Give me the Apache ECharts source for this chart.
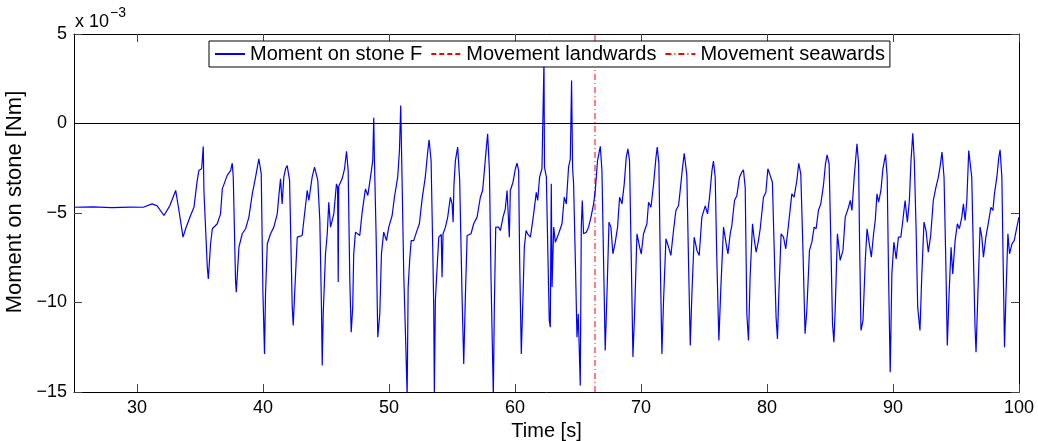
<!DOCTYPE html>
<html><head><meta charset="utf-8">
<script src="https://cdn.jsdelivr.net/npm/echarts@6/dist/echarts.min.js"></script>
<style>html,body{margin:0;padding:0;background:#fff}#c{width:1038px;height:441px}</style>
</head><body><div id="c"></div>
<script>
// Time [s]
const timeS = [25.0,26.5,28.0,29.5,30.5,31.2,31.6,32.14,32.6,33.07,33.33,33.65,33.86,34.25,34.52,34.78,34.91,35.13,35.26,35.31,35.58,35.66,35.84,35.98,36.37,36.63,36.77,37.16,37.43,37.56,37.64,37.82,37.88,38.09,38.35,38.62,38.88,39.15,39.41,39.67,39.86,39.99,40.12,40.2,40.34,40.6,40.86,41.13,41.26,41.39,41.52,41.65,41.79,41.92,42.11,42.32,42.4,42.5,42.72,43.11,43.24,43.51,43.64,43.9,44.09,44.35,44.51,44.64,44.7,44.78,44.96,45.1,45.22,45.36,45.62,45.83,45.92,45.97,46.01,46.28,46.47,46.63,46.76,46.89,47.0,47.12,47.2,47.34,47.68,47.87,48.13,48.32,48.53,48.71,48.79,48.84,48.98,49.11,49.27,49.4,49.58,49.8,49.98,50.25,50.43,50.69,50.83,50.93,51.01,51.17,51.3,51.44,51.52,51.64,51.76,51.96,52.18,52.41,52.63,52.88,53.07,53.18,53.34,53.47,53.55,53.6,53.68,53.82,53.95,54.15,54.21,54.29,54.48,54.66,54.87,55.01,55.09,55.15,55.27,55.45,55.61,55.8,55.93,56.06,56.2,56.51,56.72,56.99,57.25,57.43,57.57,57.73,57.83,57.97,58.1,58.2,58.28,58.36,58.47,58.7,58.84,59.05,59.23,59.37,59.5,59.55,59.63,59.84,60.03,60.16,60.29,60.37,60.5,60.64,60.74,60.88,61.0,61.22,61.43,61.69,61.8,61.95,62.14,62.27,62.3,62.34,62.49,62.62,62.72,62.8,62.88,62.94,63.07,63.2,63.46,63.73,63.91,64.07,64.25,64.39,64.49,64.57,64.65,64.79,64.92,65.02,65.18,65.26,65.34,65.44,65.66,65.84,66.03,66.24,66.37,66.55,66.77,66.9,67.03,67.16,67.3,67.46,67.61,67.77,67.96,68.14,68.3,68.49,68.67,68.83,68.96,69.09,69.23,69.36,69.49,69.68,69.89,70.02,70.2,70.47,70.6,70.79,71.0,71.19,71.29,71.42,71.53,71.66,71.79,71.98,72.19,72.37,72.58,72.77,72.98,73.11,73.3,73.43,73.64,73.77,73.91,74.04,74.22,74.44,74.62,74.83,75.1,75.28,75.44,75.63,75.75,75.89,76.02,76.18,76.34,76.55,76.76,76.9,77.08,77.21,77.42,77.61,77.82,78.0,78.13,78.27,78.4,78.53,78.66,78.85,78.98,79.14,79.32,79.46,79.72,79.91,80.07,80.25,80.43,80.56,80.72,80.83,80.94,81.12,81.31,81.49,81.7,81.97,82.15,82.37,82.52,82.68,82.84,83.02,83.16,83.37,83.56,83.74,83.9,84.08,84.27,84.48,84.64,84.77,84.93,85.07,85.2,85.31,85.41,85.59,85.81,86.03,86.21,86.47,86.61,86.74,86.92,87.14,87.27,87.35,87.46,87.62,87.8,87.94,88.12,88.28,88.46,88.59,88.73,88.86,89.04,89.2,89.41,89.54,89.65,89.78,89.91,90.07,90.25,90.43,90.62,90.78,90.96,91.14,91.3,91.43,91.57,91.69,91.83,91.96,92.14,92.28,92.46,92.62,92.8,92.99,93.2,93.41,93.6,93.73,93.89,94.05,94.19,94.31,94.45,94.61,94.74,94.93,95.11,95.27,95.46,95.59,95.72,95.86,96.01,96.12,96.25,96.38,96.51,96.59,96.73,96.91,97.05,97.18,97.37,97.58,97.77,97.93,98.05,98.24,98.4,98.5,98.64,98.74,98.85,98.96,99.12,99.25,99.44,99.62,99.83,100.0];
// Moment on stone F [x 10^-3 Nm]
const momentE3 = [-4.68,-4.66,-4.7,-4.67,-4.68,-4.49,-4.6,-5.14,-4.6,-3.74,-4.86,-6.35,-5.88,-5.14,-4.68,-3.18,-2.63,-2.53,-1.28,-3.74,-8.03,-8.68,-6.72,-5.88,-5.6,-5.05,-3.65,-2.9,-2.63,-2.22,-3.0,-8.77,-9.42,-6.91,-6.16,-5.88,-5.23,-3.93,-3.0,-1.97,-2.81,-9.33,-12.87,-9.51,-6.72,-6.16,-5.79,-5.05,-4.02,-3.09,-4.49,-3.0,-2.53,-2.35,-3.18,-10.26,-11.28,-9.7,-6.35,-6.26,-5.42,-3.74,-4.3,-3.0,-2.44,-3.18,-5.42,-10.26,-13.52,-10.63,-7.28,-6.16,-4.4,-5.79,-5.05,-3.37,-3.6,-8.86,-3.5,-3.09,-2.53,-1.55,-2.63,-8.77,-11.66,-10.26,-7.28,-6.07,-6.26,-4.95,-3.65,-4.02,-3.0,-2.07,0.32,-1.88,-6.35,-11.94,-10.63,-7.28,-6.07,-6.54,-5.79,-5.14,-4.12,-3.0,-1.51,1.0,-2.07,-8.4,-11.56,-15.2,-9.14,-7.65,-6.54,-6.54,-6.07,-5.6,-4.21,-3.0,-1.6,-0.91,-2.07,-6.91,-10.26,-15.2,-9.89,-8.03,-6.35,-6.2,-8.59,-6.16,-5.79,-5.23,-4.12,-4.49,-5.51,-3.5,-2.07,-1.32,-3.18,-9.7,-13.43,-9.7,-6.26,-6.16,-5.6,-5.23,-4.12,-3.74,-2.63,-1.32,-0.58,-2.63,-8.77,-12.31,-15.2,-10.26,-5.79,-5.79,-5.98,-5.23,-4.77,-3.74,-3.8,-6.35,-3.74,-3.28,-2.53,-2.22,-2.63,-7.65,-12.87,-9.51,-6.91,-5.98,-6.16,-6.35,-5.33,-3.84,-4.3,-3.0,-2.53,-2.44,3.5,-2.44,-3.0,-7.65,-11.0,-11.38,-3.37,-9.14,-5.79,-6.63,-6.16,-5.6,-4.12,-4.49,-2.44,-1.97,2.4,-2.44,-3.37,-7.65,-11.94,-10.63,-14.64,-5.79,-4.3,-6.16,-6.07,-5.79,-5.23,-4.49,-3.74,-2.07,-1.28,-2.63,-7.65,-12.68,-9.51,-5.51,-5.79,-7.28,-6.63,-5.79,-4.12,-4.49,-3.37,-1.88,-1.42,-2.07,-7.65,-13.05,-10.63,-6.16,-6.91,-7.28,-6.16,-5.6,-4.4,-4.68,-3.37,-1.88,-1.32,-2.25,-7.65,-12.87,-9.89,-6.44,-6.91,-7.37,-5.98,-4.86,-4.58,-3.74,-2.44,-1.66,-2.9,-7.65,-12.4,-9.51,-6.35,-7.09,-7.37,-5.23,-4.6,-5.05,-4.12,-2.63,-2.1,-3.0,-7.65,-12.12,-9.14,-5.79,-6.72,-7.28,-6.16,-5.7,-4.3,-4.02,-3.0,-2.72,-2.59,-3.56,-10.63,-12.12,-8.59,-5.6,-6.44,-7.19,-6.54,-5.88,-4.12,-3.84,-2.53,-2.9,-3.28,-6.72,-10.82,-12.03,-9.51,-6.16,-6.35,-7.0,-5.7,-3.93,-4.12,-3.18,-2.22,-2.81,-6.72,-11.75,-10.45,-7.09,-6.63,-5.79,-5.88,-4.86,-4.49,-3.46,-2.25,-1.75,-2.25,-6.72,-11.19,-12.22,-10.45,-6.16,-7.65,-7.09,-5.23,-4.68,-4.3,-4.86,-3.0,-1.13,-2.25,-6.72,-11.56,-11.0,-7.65,-5.88,-6.72,-7.47,-6.16,-5.42,-3.93,-4.4,-3.74,-2.53,-1.73,-3.0,-8.59,-13.89,-8.4,-6.63,-7.56,-6.35,-6.35,-5.42,-4.3,-5.51,-4.3,-2.07,-0.54,-2.07,-5.79,-10.26,-11.56,-8.59,-5.51,-5.98,-7.19,-6.26,-4.3,-3.56,-3.0,-2.44,-1.6,-3.0,-7.65,-12.4,-9.51,-6.91,-8.4,-6.54,-5.6,-5.88,-5.23,-4.49,-5.42,-4.3,-1.51,-1.51,-3.0,-7.28,-11.38,-12.78,-9.7,-5.79,-6.35,-7.47,-6.35,-5.51,-4.68,-4.86,-3.93,-3.0,-1.88,-1.47,-3.0,-7.65,-12.5,-9.7,-6.16,-7.28,-6.72,-6.54,-5.79,-5.23];
const xTicks = [30,40,50,60,70,80,90,100];
const yTicks = [-15,-10,-5,0,5];
const landwardsTimes = [];
const seawardsTimes = [66.35];
const zeroLevel = [0];
const seriesNames = ['Moment on stone F','Movement landwards','Movement seawards'];

const FONT = '"Liberation Sans", Arial, Helvetica, sans-serif';
const fmt = v => String(v).replace('-', '\u2212');
const chart = echarts.init(document.getElementById('c'), null, {renderer:'canvas'});
const momentData = timeS.map((t,i)=>[t, momentE3[i]]);
const yMin = yTicks[0], yMax = yTicks[yTicks.length-1];
// vertical event lines spanning full y range, separated by null gaps
const vLines = times => times.flatMap(t => [[t, yMin], [t, yMax], null]);
const tickStyle = {show:true, inside:true, length:8, lineStyle:{color:'#444', width:1}};
const lineAx = {show:true, onZero:false, lineStyle:{color:'#000', width:1}};

chart.setOption({
  animation:false,
  backgroundColor:'#fff',
  grid:{left:74, right:19, top:34, bottom:49, containLabel:false, outerBoundsMode:'none'},
  legend:{
    data:seriesNames, left:209, top:41, itemWidth:30, itemHeight:12, itemGap:8, z:10,
    padding:[3,5,3,5], backgroundColor:'#fff', borderColor:'#000', borderWidth:1, borderRadius:0,
    itemStyle:{color:'rgba(0,0,0,0)', borderColor:'rgba(0,0,0,0)', borderWidth:0},
    textStyle:{fontSize:20, fontFamily:FONT, color:'#000'}, selectedMode:false
  },
  xAxis:[{
    type:'value', min:25, max:100, position:'bottom',
    name:'Time [s]', nameLocation:'middle', nameGap:24,
    nameTextStyle:{fontSize:20, fontFamily:FONT, color:'#000'},
    axisLine:lineAx, axisTick:Object.assign({customValues:xTicks}, tickStyle),
    axisLabel:{customValues:xTicks, fontSize:18, fontFamily:FONT, color:'#000', margin:7},
    splitLine:{show:false}
  },{
    type:'value', min:25, max:100, position:'top',
    axisLine:lineAx, axisTick:Object.assign({customValues:xTicks}, tickStyle),
    axisLabel:{show:false}, splitLine:{show:false}
  }],
  yAxis:[{
    type:'value', min:yMin, max:yMax, interval:5, position:'left',
    name:'Moment on stone [Nm]', nameLocation:'middle', nameGap:37,
    nameTextStyle:{fontSize:22, fontFamily:FONT, color:'#000', padding:[0,0,0,22]},
    axisLine:lineAx, axisTick:tickStyle,
    axisLabel:{fontSize:18, fontFamily:FONT, color:'#000', margin:7, formatter:fmt},
    splitLine:{show:false}
  },{
    type:'value', min:yMin, max:yMax, interval:5, position:'right',
    axisLine:lineAx, axisTick:tickStyle,
    axisLabel:{show:false}, splitLine:{show:false}
  }],
  series:[{
    name:seriesNames[0], type:'line', data:momentData, showSymbol:false, symbol:'none',
    lineStyle:{color:'#0000ff', width:1.2}, itemStyle:{color:'#0000ff'}, color:'#0000ff', clip:true, z:3,
    markLine:{silent:true, symbol:'none', label:{show:false}, animation:false,
      lineStyle:{color:'#000', width:1, type:'solid'},
      data:zeroLevel.map(v=>({yAxis:v}))}
  },{
    name:seriesNames[1], type:'line', data:vLines(landwardsTimes), showSymbol:false, symbol:'none',
    connectNulls:false, color:'#ff0000',
    lineStyle:{color:'#ff0000', width:1, type:[5,3]}, itemStyle:{color:'#ff0000'}, z:2
  },{
    name:seriesNames[2], type:'line', data:vLines(seawardsTimes), showSymbol:false, symbol:'none',
    connectNulls:false, color:'#ff0000',
    lineStyle:{color:'#ff0000', width:1, type:[6,3,1,3]}, itemStyle:{color:'#ff0000'}, z:2
  }],
  graphic:[
    {type:'text', left:75, top:13, style:{text:'x 10', font:'18px ' + FONT, fill:'#000'}},
    {type:'text', left:110, top:6, style:{text:'\u22123', font:'14px ' + FONT, fill:'#000'}}
  ]
});
</script></body></html>
